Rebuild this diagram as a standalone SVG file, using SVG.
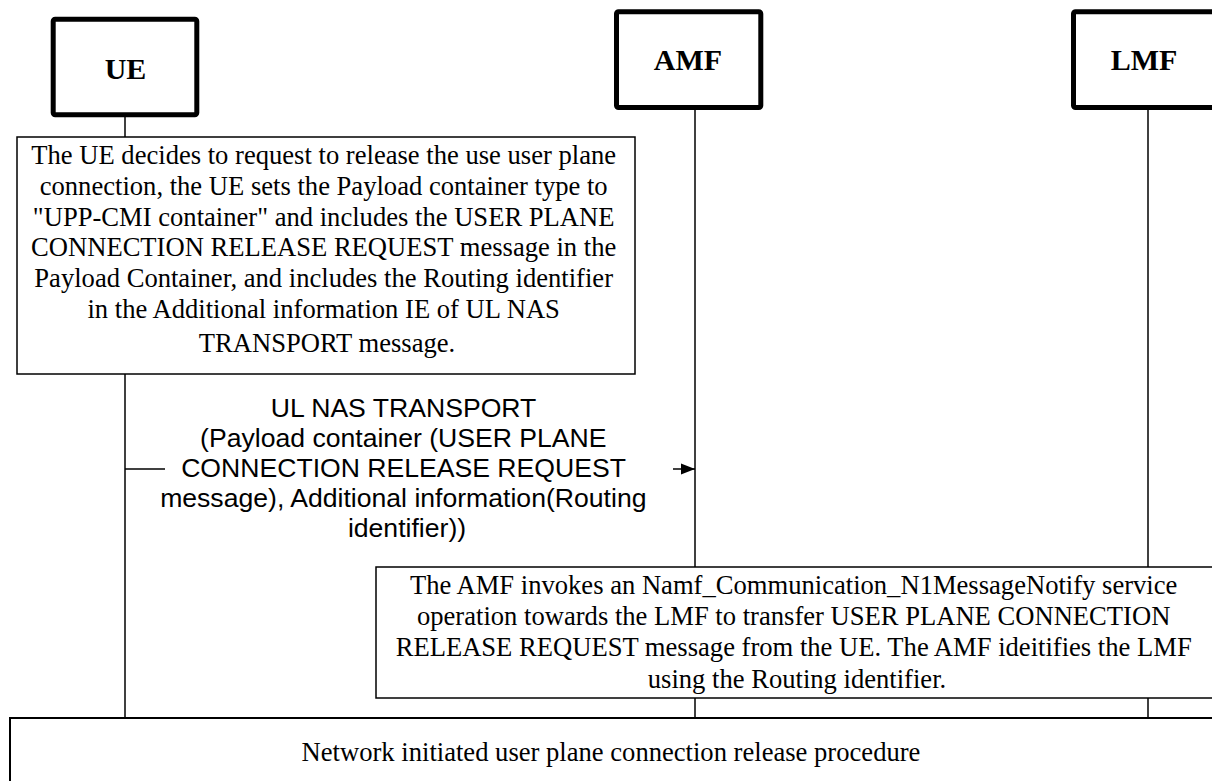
<svg xmlns="http://www.w3.org/2000/svg" width="1212" height="781" viewBox="0 0 1212 781">
<style>
.ent{fill:#fff;stroke:#000;stroke-width:5;stroke-linejoin:round}
.title{font-family:"Liberation Serif","Times New Roman",serif;font-weight:bold;font-size:30px;text-anchor:middle;fill:#000}
.life{stroke:#000;stroke-width:1.5;fill:none}
.note{fill:#fff;stroke:#000;stroke-width:1.5}
.nt{font-family:"Liberation Serif","Times New Roman",serif;font-size:26.6px;text-anchor:middle;fill:#000}
.lbl{font-family:"Liberation Sans",Arial,sans-serif;font-size:26.6px;text-anchor:middle;fill:#000}
.msg{stroke:#000;stroke-width:1.5;fill:none}
</style>
<defs>
<marker id="ah" markerWidth="15" markerHeight="12" refX="14" refY="6" orient="auto" markerUnits="userSpaceOnUse">
<path d="M0,0.5 L14,6 L0,11.5 Z" fill="#000"/>
</marker>
</defs>
<g id="lifelines">
<line class="life" x1="125" y1="117" x2="125" y2="718"/>
<line class="life" x1="695" y1="110" x2="695" y2="718"/>
<line class="life" x1="1148" y1="110" x2="1148" y2="718"/>
</g>
<g id="UE">
<rect class="ent" x="53.2" y="19.2" width="143.6" height="95.6" rx="2"/>
<text class="title" x="125.5" y="79">UE</text>
</g>
<g id="AMF">
<rect class="ent" x="616.5" y="11.8" width="144.3" height="95.7" rx="2"/>
<text class="title" x="688" y="69.5">AMF</text>
</g>
<g id="LMF">
<rect class="ent" x="1073.5" y="11.8" width="144.3" height="95.7" rx="2"/>
<text class="title" x="1144" y="70">LMF</text>
</g>
<g id="note-ue">
<rect class="note" x="17" y="137" width="618" height="237"/>
<text class="nt">
<tspan x="327" y="164">The UE decides to request to release the use user plane</tspan>
<tspan x="327" y="195">connection, the UE sets the Payload container type to</tspan>
<tspan x="327" y="226">"UPP-CMI container" and includes the USER PLANE</tspan>
<tspan x="327" y="256">CONNECTION RELEASE REQUEST message in the</tspan>
<tspan x="327" y="287">Payload Container, and includes the Routing identifier</tspan>
<tspan x="327" y="318">in the Additional information IE of UL NAS</tspan>
<tspan x="327" y="352">TRANSPORT message.</tspan>
</text>
</g>
<g id="connectors">
<line class="msg" x1="125" y1="469" x2="165" y2="469"/>
<line class="msg" x1="673" y1="469" x2="695" y2="469" marker-end="url(#ah)"/>
</g>
<g id="msg-label">
<text class="lbl">
<tspan x="407" y="416.5">UL NAS TRANSPORT</tspan>
<tspan x="407" y="446.5">(Payload container (USER PLANE</tspan>
<tspan x="407" y="476.5">CONNECTION RELEASE REQUEST</tspan>
<tspan x="407" y="506.5">message), Additional information(Routing</tspan>
<tspan x="407" y="536.5">identifier))</tspan>
</text>
</g>
<g id="note-amf">
<rect class="note" x="376" y="567" width="842" height="131"/>
<text class="nt">
<tspan x="797" y="593.5">The AMF invokes an Namf_Communication_N1MessageNotify service</tspan>
<tspan x="797" y="624.5">operation towards the LMF to transfer USER PLANE CONNECTION</tspan>
<tspan x="797" y="656">RELEASE REQUEST message from the UE. The AMF ideitifies the LMF</tspan>
<tspan x="797" y="687.5">using the Routing identifier.</tspan>
</text>
</g>
<g id="procedure">
<rect x="10" y="718" width="1208" height="80" fill="#fff" stroke="#000" stroke-width="2"/>
<text class="nt" x="611" y="761">Network initiated user plane connection release procedure</text>
</g>
</svg>
